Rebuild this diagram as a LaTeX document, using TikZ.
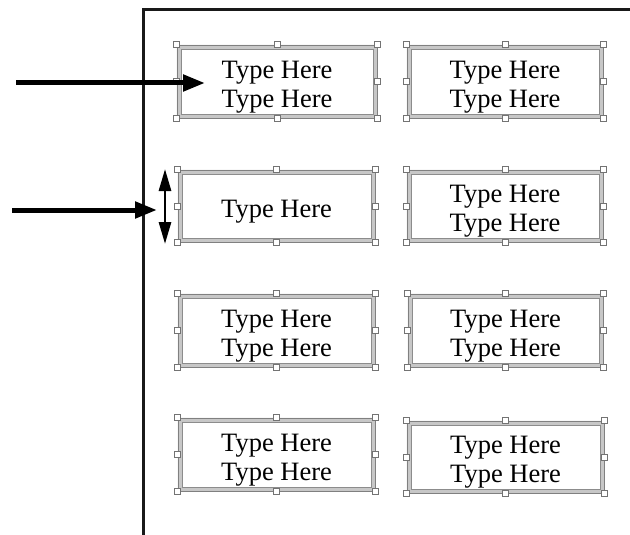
\documentclass[tikz,border=0pt]{standalone}
\usepackage{fontspec}
\setmainfont{Liberation Serif}
\usetikzlibrary{arrows.meta,calc}
\begin{document}
\begin{tikzpicture}[x=1pt,y=-1pt,
  tbox/.style={inner sep=0pt, minimum width=#1, minimum height=73pt},
  tbox/.default=198pt,
  txt/.style={inner sep=0pt, align=center, font=\fontsize{26.5}{29}\selectfont},
  handle/.style={draw=black!55, fill=white, line width=0.7pt, minimum size=6pt, inner sep=0pt},
  bigarrow/.style={line width=5pt, -{Triangle[length=22pt,width=16pt]}},
  dblarrow/.style={line width=2.8pt, {Triangle[length=22pt,width=12pt]}-{Triangle[length=22pt,width=12pt]}}
]
\useasboundingbox (0,0) rectangle (630,535);
% page frame
\draw[line width=3pt, black!90] (143,535) -- (143,10) -- (630,10);
% boxes
\node[tbox=200pt] (a) at (277,81.5) {};
\node[tbox=196pt] (b) at (505,81.5) {};
\node[tbox=197pt, minimum height=72pt] (c) at (276.5,206) {};
\node[tbox=196pt, minimum height=72pt] (d) at (505,206) {};
\node[tbox=197pt] (e) at (276.5,330.5) {};
\node[tbox=195pt] (f) at (505.5,330.5) {};
\node[tbox=197pt] (g) at (276.5,454.5) {};
\node[tbox=197pt, minimum height=72pt] (h) at (505.5,457) {};
\foreach \n in {a,b,c,d,e,f,g,h} {
  \fill[black!22, even odd rule] (\n.north west) rectangle (\n.south east)
     ($(\n.north west)+(4,4)$) rectangle ($(\n.south east)+(-4,-4)$);
  \draw[black!50, line width=0.5pt] (\n.north west) rectangle (\n.south east);
  \draw[black!45, line width=0.5pt] ($(\n.north west)+(4,4)$) rectangle ($(\n.south east)+(-4,-4)$);
  \foreach \an in {north west,north,north east,east,south east,south,south west,west}
    \node[handle] at (\n.\an) {};
}
% texts
\node[txt] (at) at ($(a.center)+(0,5.5)$) {Type Here\\Type Here};
\node[txt] (bt) at ($(b.center)+(0,5.5)$) {Type Here\\Type Here};
\node[txt] (ct) at ($(c.center)+(0,5.5)$) {Type Here};
\node[txt] (dt) at ($(d.center)+(0,5.5)$) {Type Here\\Type Here};
\node[txt] (et) at ($(e.center)+(0,5.5)$) {Type Here\\Type Here};
\node[txt] (ft) at ($(f.center)+(0,5.5)$) {Type Here\\Type Here};
\node[txt] (gt) at ($(g.center)+(0,5.5)$) {Type Here\\Type Here};
\node[txt] (ht) at ($(h.center)+(0,5.5)$) {Type Here\\Type Here};
% arrows
\coordinate (s1) at (16,83);
\coordinate (t1) at (205,83);
\draw[bigarrow] (s1) -- (t1);
\coordinate (s2) at (12,210);
\coordinate (t2) at (157,210);
\draw[bigarrow] (s2) -- (t2);
\coordinate (u1) at (165,169);
\coordinate (u2) at (165,244);
\draw[dblarrow] (u1) -- (u2);
\end{tikzpicture}
\end{document}
